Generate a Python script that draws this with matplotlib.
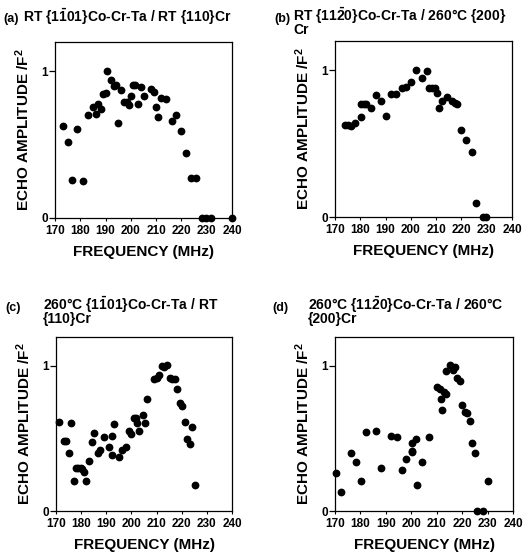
import numpy as np
import matplotlib
matplotlib.use('Agg')
import matplotlib.pyplot as plt

plt.rcParams['font.family'] = ['Liberation Sans', 'DejaVu Sans']
plt.rcParams['font.weight'] = 'bold'
plt.rcParams['mathtext.fontset'] = 'custom'
plt.rcParams['mathtext.rm'] = 'Liberation Sans:bold'
plt.rcParams['mathtext.bf'] = 'Liberation Sans:bold'
plt.rcParams['mathtext.it'] = 'Liberation Sans:bold'

# (a) RT Co-Cr-Ta / RT Cr
freq_a = [173.0, 175.0, 176.8, 178.8, 181.2, 183.2, 185.1, 186.1, 187.0, 188.0,
          189.1, 190.0, 190.7, 192.1, 193.4, 194.1, 195.1, 196.1, 197.4, 198.4,
          199.2, 200.0, 200.9, 201.8, 203.0, 204.1, 205.3, 207.9, 209.0, 210.0,
          210.9, 212.0, 213.8, 216.1, 218.0, 220.0, 222.0, 223.8, 225.9, 228.0,
          229.9, 231.7, 240.0]
amp_a = [0.625, 0.516, 0.26, 0.61, 0.25, 0.70, 0.76, 0.71, 0.78, 0.74,
         0.845, 0.85, 1.005, 0.94, 0.90, 0.91, 0.65, 0.87, 0.79, 0.79,
         0.77, 0.83, 0.907, 0.907, 0.78, 0.89, 0.83, 0.88, 0.86, 0.755,
         0.69, 0.82, 0.81, 0.66, 0.70, 0.59, 0.445, 0.27, 0.27, 0.0,
         0.0, 0.0, 0.0]

# (b) RT Co-Cr-Ta / 260C Cr
freq_b = [174.1, 175.0, 176.3, 178.1, 180.4, 180.4, 181.4, 182.4, 184.3, 186.3,
          188.1, 190.2, 192.3, 194.3, 196.3, 198.2, 200.1, 202.2, 204.3, 206.3,
          207.3, 208.2, 209.4, 210.2, 211.1, 212.2, 214.1, 216.3, 217.3, 218.4,
          219.9, 222.0, 224.1, 225.8, 228.4, 229.6]
amp_b = [0.627, 0.627, 0.62, 0.64, 0.68, 0.77, 0.77, 0.77, 0.74, 0.83,
         0.79, 0.69, 0.84, 0.84, 0.88, 0.885, 0.918, 1.005, 0.95, 0.995,
         0.88, 0.88, 0.88, 0.845, 0.74, 0.79, 0.815, 0.79, 0.78, 0.77,
         0.59, 0.524, 0.44, 0.094, 0.0, 0.0]

# (c) 260C Co-Cr-Ta / RT Cr
freq_c = [171.2, 173.2, 174.1, 175.0, 176.1, 177.0, 178.0, 178.9, 179.8, 180.2,
          181.1, 182.1, 183.1, 184.2, 185.1, 186.7, 187.6, 189.0, 191.0, 192.1,
          192.3, 193.2, 195.1, 196.3, 197.8, 198.9, 200.0, 200.9, 201.8, 202.1,
          203.0, 204.5, 205.3, 206.2, 209.1, 210.1, 211.0, 212.2, 213.0, 214.2,
          215.3, 216.2, 217.3, 218.3, 219.2, 220.3, 221.2, 222.1, 223.2, 224.2,
          225.3]
amp_c = [0.617, 0.48, 0.48, 0.40, 0.61, 0.204, 0.30, 0.30, 0.30, 0.29,
         0.266, 0.204, 0.344, 0.475, 0.537, 0.40, 0.42, 0.51, 0.44, 0.52,
         0.385, 0.60, 0.37, 0.42, 0.44, 0.55, 0.53, 0.64, 0.64, 0.61,
         0.55, 0.66, 0.61, 0.77, 0.91, 0.92, 0.94, 1.0, 0.99, 1.005,
         0.92, 0.91, 0.91, 0.84, 0.745, 0.725, 0.617, 0.50, 0.46, 0.58,
         0.18]

# (d) 260C Co-Cr-Ta / 260C Cr
freq_d = [170.3, 172.4, 176.2, 178.1, 180.4, 182.3, 186.3, 188.0, 192.1, 194.2,
          196.2, 198.0, 200.1, 200.1, 200.2, 202.0, 202.1, 204.2, 207.0, 210.0,
          211.2, 211.8, 212.0, 212.9, 213.8, 213.8, 215.2, 216.4, 217.2, 218.1,
          219.1, 220.1, 221.0, 222.0, 222.9, 223.9, 224.9, 225.8, 228.3, 230.2]
amp_d = [0.265, 0.13, 0.40, 0.34, 0.21, 0.547, 0.55, 0.30, 0.52, 0.51,
         0.28, 0.357, 0.47, 0.415, 0.405, 0.494, 0.176, 0.336, 0.51, 0.856,
         0.84, 0.77, 0.70, 0.82, 0.81, 0.966, 1.005, 0.97, 0.99, 0.92,
         0.90, 0.73, 0.68, 0.675, 0.62, 0.47, 0.40, 0.0, 0.0, 0.21]

x_ticks = [170, 180, 190, 200, 210, 220, 230, 240]

# tag, title, data, axes box (left, bottom, width, height in px),
# tag x, title x, tag baseline y, baseline y of the title's last line
panels = [
    ('(a)', 'RT {1$\\bar{1}$01}Co-Cr-Ta / RT {110}Cr', freq_a, amp_a,
     [55, 218, 177, 176], 3, 23, 22, 22),
    ('(b)', 'RT {11$\\bar{2}$0}Co-Cr-Ta / 260°C {200}\nCr', freq_b, amp_b,
     [335, 217, 177, 176], 274, 293, 22, 34),
    ('(c)', '260°C {1$\\bar{1}$01}Co-Cr-Ta / RT\n{110}Cr', freq_c, amp_c,
     [56, 511, 176, 174], 5, 43, 311, 323.5),
    ('(d)', '260°C {11$\\bar{2}$0}Co-Cr-Ta / 260°C\n{200}Cr', freq_d, amp_d,
     [335, 511, 178, 174], 272, 308, 311, 323.5),
]

W, H = 530, 554
fig = plt.figure(figsize=(W / 100, H / 100), dpi=100)

for tag, title, f, a, box, tag_x, title_x, tag_y, title_y in panels:
    left, bottom, w, h = box
    ax = fig.add_axes([left / W, (H - bottom) / H, w / W, h / H])
    ax.plot(f, a, 'o', color='black', markersize=4.6, clip_on=False)
    ax.set_xlim(170, 240)
    ax.set_ylim(0, 1.2)
    ax.set_xticks(x_ticks)
    ax.set_yticks([0, 1])
    ax.set_yticklabels(['0', '1'])
    ax.tick_params(axis='y', direction='out', length=4, width=0.9, labelsize=8.5, pad=1)
    ax.tick_params(axis='x', direction='out', length=2, width=0.8, labelsize=8.5, pad=3)
    for lbl in ax.get_xticklabels() + ax.get_yticklabels():
        lbl.set_fontweight('bold')
    for s in ax.spines.values():
        s.set_linewidth(0.9)
    ax.set_xlabel('FREQUENCY (MHz)', fontsize=11, fontweight='bold', labelpad=6)
    ax.set_ylabel('ECHO AMPLITUDE /F$^{2}$', fontsize=11, fontweight='bold', labelpad=7)
    fig.text(tag_x / W, 1 - tag_y / H, tag, fontsize=9,
             fontweight='bold', va='baseline', ha='left')
    fig.text(title_x / W, 1 - title_y / H, title, fontsize=10,
             fontweight='bold', va='baseline', ha='left', linespacing=0.75)

fig.savefig('out.png', dpi=100)
